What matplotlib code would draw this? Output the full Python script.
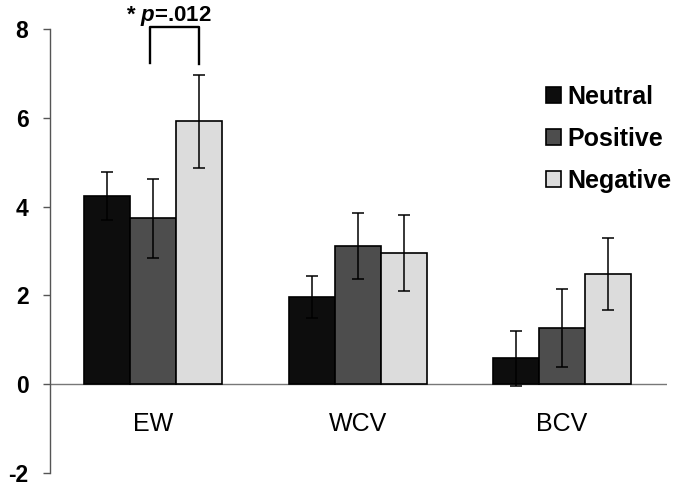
import numpy as np
import matplotlib
matplotlib.use("Agg")
import matplotlib.pyplot as plt

# === données ===
categories = ["EW", "WCV", "BCV"]
series = ["Neutral", "Positive", "Negative"]
neutral = [4.24, 1.96, 0.58]
neutral_err = [0.55, 0.47, 0.62]
positive = [3.74, 3.11, 1.27]
positive_err = [0.89, 0.74, 0.88]
negative = [5.92, 2.95, 2.48]
negative_err = [1.05, 0.85, 0.82]
colors = ["#0d0d0d", "#4d4d4d", "#dcdcdc"]
yticks = [-2, 0, 2, 4, 6, 8]

plt.rcParams["font.family"] = "Liberation Sans"
plt.rcParams["mathtext.fontset"] = "custom"
plt.rcParams["mathtext.it"] = "Liberation Sans:italic:bold"

fig = plt.figure(figsize=(6.8, 4.86), dpi=100)
ax = fig.add_axes([50 / 680, 1 - 473 / 486, 617 / 680, 444 / 486])

x = np.arange(len(categories))
w = 0.225
vals = [neutral, positive, negative]
errs = [neutral_err, positive_err, negative_err]
for i, (v, e) in enumerate(zip(vals, errs)):
    ax.bar(x + (i - 1) * w, v, w, color=colors[i], edgecolor="black",
           linewidth=1.2, label=series[i], zorder=2)
    ax.errorbar(x + (i - 1) * w, v, yerr=e, fmt="none", ecolor="black",
                elinewidth=1.1, capsize=4, capthick=1.1, zorder=3)

ax.set_xlim(-0.504, 2.513)
ax.set_ylim(-2, 8)
ax.axhline(0, color="#777777", linewidth=1.0, zorder=1)

# axes
for s in ["top", "right", "bottom"]:
    ax.spines[s].set_visible(False)
ax.spines["left"].set_color("#555555")
ax.spines["left"].set_linewidth(1.0)
ax.set_xticks([])
ax.set_yticks(yticks)
ax.set_yticklabels([str(t) for t in yticks], fontsize=16.5, fontweight="bold")
ax.tick_params(axis="y", length=5, width=1.0, color="#555555", pad=10.5)

for xi, c in zip(x, categories):
    ax.text(xi, -0.9, c, ha="center", va="center", fontsize=18)

# crochet de significativité
ax.plot([-0.017, -0.017, 0.225, 0.225], [7.24, 8.04, 8.04, 7.21],
        color="black", linewidth=1.7, clip_on=False, zorder=4)
ax.text(0.078, 8.18, "* $p$=.012", ha="center", va="baseline",
        fontsize=16, fontweight="bold", clip_on=False)

# légende
ax.legend(loc="upper left", bbox_to_anchor=(546 / 680, 1 - 85 / 486),
          bbox_transform=fig.transFigure, frameon=False, borderpad=0,
          borderaxespad=0, handlelength=0.6, handleheight=0.6,
          handletextpad=0.25, labelspacing=0.72,
          prop={"size": 18, "weight": "bold"})

plt.savefig("out.png", dpi=100)
